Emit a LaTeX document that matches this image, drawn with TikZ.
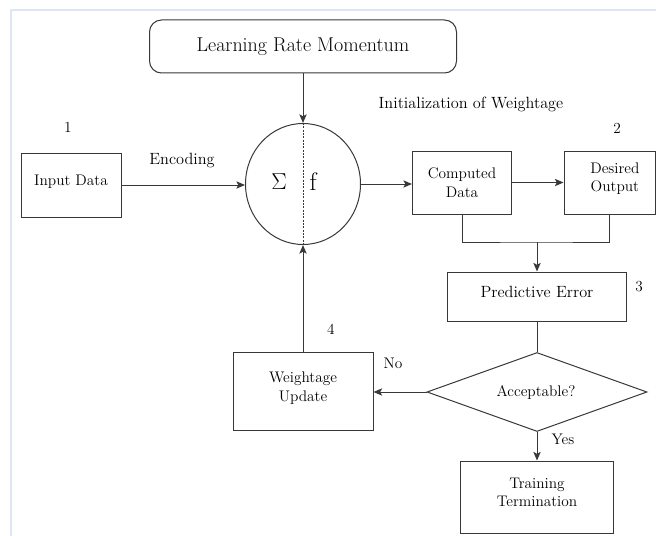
\documentclass[tikz,border=0pt]{standalone}
\usetikzlibrary{shapes.geometric,arrows.meta}
\begin{document}
\begin{tikzpicture}[x=0.75pt,y=-0.75pt,
 every node/.style={font=\fontsize{11.5}{14}\selectfont, text=black},
 big/.style={font=\fontsize{12.2}{14}\selectfont},
 line/.style={draw=black!78, line width=0.75pt},
 arr/.style={line, -{Stealth[length=6.5pt,width=5.5pt,inset=1.5pt]}},
 box/.style={draw=black!78, line width=0.75pt, rectangle, inner sep=0pt, align=center},
 lbl/.style={inner sep=0pt}]
\useasboundingbox (0,0) rectangle (656,535);
\draw[color={rgb,255:red,221;green,230;blue,242}, line width=1.6pt] (11,536) -- (11,10) -- (657,10);

% nodes
\node[box, rounded corners=9pt, minimum width=307*0.75pt, minimum height=53*0.75pt,
      font=\fontsize{15}{17}\selectfont] (lrm) at (303,46.5) {Learning Rate Momentum};
\node[ellipse, line, minimum width=115*0.75pt, minimum height=121*0.75pt, inner sep=0pt] (sum) at (303,184) {};
\node[lbl, font=\fontsize{19}{21}\selectfont] (sigma) at (279,182) {$\Sigma$};
\node[lbl, font=\fontsize{19}{21}\selectfont] (ff) at (313,182) {f};
\node[box, minimum width=100*0.75pt, minimum height=64*0.75pt] (input) at (71,185) {Input Data\\[-11.5pt]\strut};
\node[box, minimum width=99*0.75pt, minimum height=63*0.75pt] (computed) at (462,182.5) {Computed\\Data};
\node[box, minimum width=91*0.75pt, minimum height=63*0.75pt] (desired) at (609.5,182.5) {\hspace*{8pt}Desired\\\hspace*{8pt}Output\\[-10pt]\strut};
\node[box, big, minimum width=179*0.75pt, minimum height=49*0.75pt] (pred) at (537,296.5) {Predictive Error\\[-11.4pt]\strut};
\node[diamond, line, minimum width=220*0.75pt, minimum height=79*0.75pt, inner sep=0pt] (dec) at (537,392) {};
\node[lbl] (acc) at (536,393) {Acceptable?};
\node[box, minimum width=153*0.75pt, minimum height=72*0.75pt] (term) at (537,497) {Training\\Termination\\[-11pt]\strut};
\node[box, minimum width=140*0.75pt, minimum height=78*0.75pt] (upd) at (303,391) {Weightage\\Update\\[-12pt]\strut};

% labels
\node[lbl] (n1) at (68,127) {1};
\node[lbl] (n2) at (617,128) {2};
\node[lbl] (n3) at (639,287) {3};
\node[lbl] (n4) at (331,329) {4};
\node[lbl, big] (enc) at (182,161) {Encoding};
\node[lbl, big] (init) at (471,104) {Initialization of Weightage};
\node[lbl] (no) at (393,363) {No};
\node[lbl] (yes) at (563,439) {Yes};

% connectors
\draw[line, dash pattern=on 1.5pt off 1pt] (sum.north) -- (sum.south);
\draw[arr] (lrm.south) -- (sum.north);
\draw[arr] (input.east) -- (input.east -| sum.west);
\draw[arr] (sum.east) -- (sum.east -| computed.west);
\draw[arr] (computed.east) -- (computed.east -| desired.west);
\coordinate (merge) at (537,242);
\draw[line] (computed.south) |- (merge) -| (desired.south);
\draw[arr] (merge) -- (pred.north);
\draw[line] (pred.south) -- (dec.north);
\draw[arr] (dec.south) -- (term.north);
\draw[arr] (dec.west) -- (dec.west -| upd.east);
\draw[arr] (upd.north) -- (sum.south);
\end{tikzpicture}
\end{document}
